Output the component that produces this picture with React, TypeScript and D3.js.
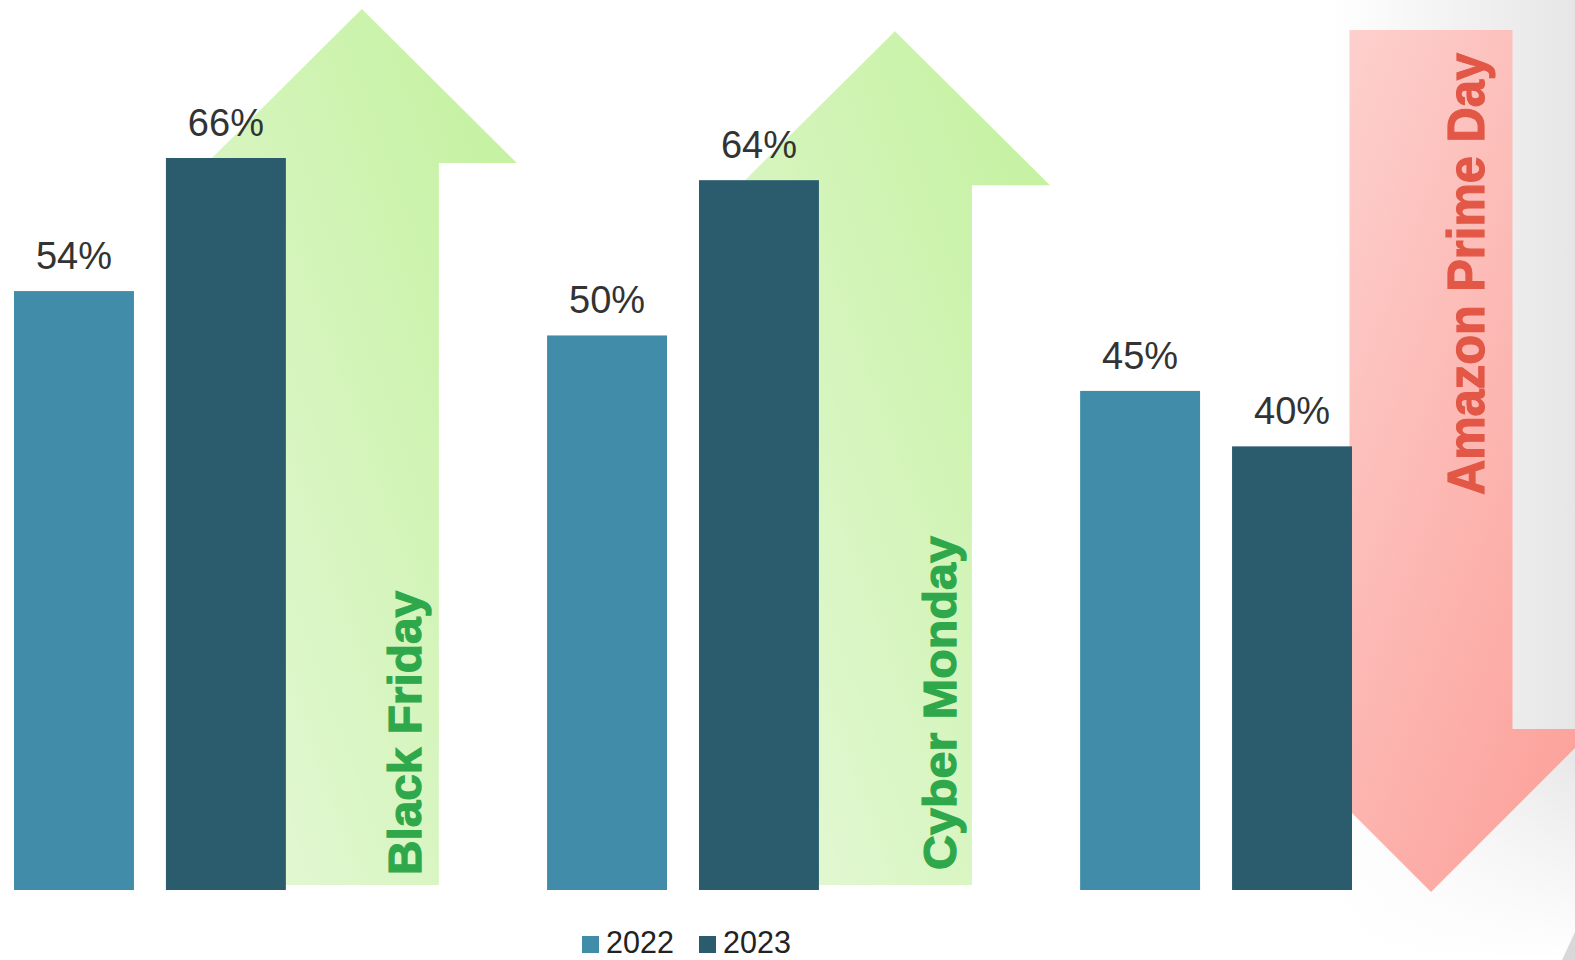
import React from "react";
import * as d3 from "d3";

const categories = ["Black Friday", "Cyber Monday", "Amazon Prime Day"];
const years = ["2022", "2023"];
const values2022 = [54, 50, 45];
const values2023 = [66, 64, 40];
const valueLabels2022 = ["54%", "50%", "45%"];
const valueLabels2023 = ["66%", "64%", "40%"];
const trend = ["up", "up", "down"];

const W = 1575;
const H = 960;
const baseline = 890;
const yTop = 158;

const COL2022 = "#418CA9";
const COL2023 = "#2A5C6D";

export default function App() {
  const y = d3.scaleLinear().domain([0, 66]).range([baseline, yTop]);
  const x0 = d3.scaleBand<string>().domain(categories).range([14, 1352]).paddingInner(0.49).paddingOuter(0);
  const x1 = d3.scaleBand<string>().domain(years).range([0, x0.bandwidth()]).paddingInner(32 / 152);
  const series = [values2022, values2023];
  const labels = [valueLabels2022, valueLabels2023];
  const colors = [COL2022, COL2023];

  const arrows = categories.map((c, i) => {
    const barRight = (x0(c) as number) + (x1("2023") as number) + x1.bandwidth();
    if (trend[i] === "up") {
      const cx = barRight + 76;
      const tip = y(values2023[i]) - 149;
      const sh = 77, hh = 155, hH = 154, bottom = 885;
      const pts: [number, number][] = [
        [cx, tip], [cx + hh, tip + hH], [cx + sh, tip + hH], [cx + sh, bottom],
        [cx - sh, bottom], [cx - sh, tip + hH], [cx - hh, tip + hH],
      ];
      return { c, i, up: true, pts };
    } else {
      const cx = barRight + 79;
      const top = 30, tip = 892, hH = 163, sh = 81.5, hh = 163;
      const pts: [number, number][] = [
        [cx - sh, top], [cx + sh, top], [cx + sh, tip - hH], [cx + hh, tip - hH],
        [cx, tip], [cx - hh, tip - hH], [cx - sh, tip - hH],
      ];
      return { c, i, up: false, pts };
    }
  });

  const line = d3.line();
  const textSpec: Record<string, { size: number; len: number; startY: number; bx: number; fill: string }> = {
    "Black Friday": { size: 46, len: 284, startY: 875, bx: 421, fill: "#2EA84B" },
    "Cyber Monday": { size: 47, len: 334, startY: 870, bx: 956, fill: "#2EA84B" },
    "Amazon Prime Day": { size: 52, len: 442, startY: 495, bx: 1484, fill: "#E25746" },
  };

  return (
    <svg
      width={W}
      height={H}
      viewBox={`0 0 ${W} ${H}`}
      style={{ position: "absolute", left: 0, top: 0, background: "#fff" }}
      fontFamily="'Liberation Sans', Arial, Helvetica, sans-serif"
    >
      <defs>
        <linearGradient id="greenG" x1="0" y1="1" x2="1" y2="0">
          <stop offset="0" stopColor="#E6F8D9" />
          <stop offset="1" stopColor="#C2F19C" />
        </linearGradient>
        <linearGradient id="redG" x1="0" y1="0" x2="1" y2="1">
          <stop offset="0" stopColor="#FDD7D5" />
          <stop offset="1" stopColor="#FC9C95" />
        </linearGradient>
        <linearGradient id="bgG" x1="0" y1="0" x2="1" y2="0">
          <stop offset="0" stopColor="#ffffff" />
          <stop offset="1" stopColor="#e6e6e6" />
        </linearGradient>
        <linearGradient id="bgFade" x1="0" y1="0" x2="0" y2="1">
          <stop offset="0" stopColor="#ffffff" stopOpacity="0" />
          <stop offset="1" stopColor="#ffffff" stopOpacity="1" />
        </linearGradient>
      </defs>

      <rect x={1330} y={0} width={W - 1330} height={H} fill="url(#bgG)" />
      <rect x={1330} y={740} width={W - 1330} height={H - 740} fill="url(#bgFade)" />
      <polygon points="1562,960 1575,932 1575,960" fill="#d8d8d8" />

      {arrows.map((a) => (
        <path key={"ar" + a.c} d={(line(a.pts) as string) + "Z"} fill={a.up ? "url(#greenG)" : "url(#redG)"} />
      ))}

      {categories.map((c, i) => (
        <g key={c} transform={`translate(${x0(c)},0)`}>
          {years.map((yr, k) => (
            <rect
              key={yr}
              x={x1(yr)}
              y={y(series[k][i])}
              width={x1.bandwidth()}
              height={baseline - y(series[k][i])}
              fill={colors[k]}
            />
          ))}
          {years.map((yr, k) => (
            <text
              key={"t" + yr}
              x={(x1(yr) as number) + x1.bandwidth() / 2}
              y={y(series[k][i]) - 22}
              textAnchor="middle"
              fontSize={38}
              fill="#333"
            >
              {labels[k][i]}
            </text>
          ))}
        </g>
      ))}

      {arrows.map((a) => {
        const s = textSpec[a.c];
        return (
          <text
            key={"lbl" + a.c}
            transform={`translate(${s.bx},${s.startY}) rotate(-90)`}
            fontSize={s.size}
            fontWeight="bold"
            fill={s.fill}
            stroke={s.fill}
            strokeWidth={1.2}
            textLength={s.len}
            lengthAdjust="spacingAndGlyphs"
          >
            {a.c}
          </text>
        );
      })}

      {years.map((yr, k) => (
        <g key={"lg" + yr} transform={`translate(${582 + k * 117},0)`}>
          <rect x={0} y={936} width={17} height={17} fill={colors[k]} />
          <text x={24} y={953} fontSize={30.5} fill="#222">
            {yr}
          </text>
        </g>
      ))}
    </svg>
  );
}
